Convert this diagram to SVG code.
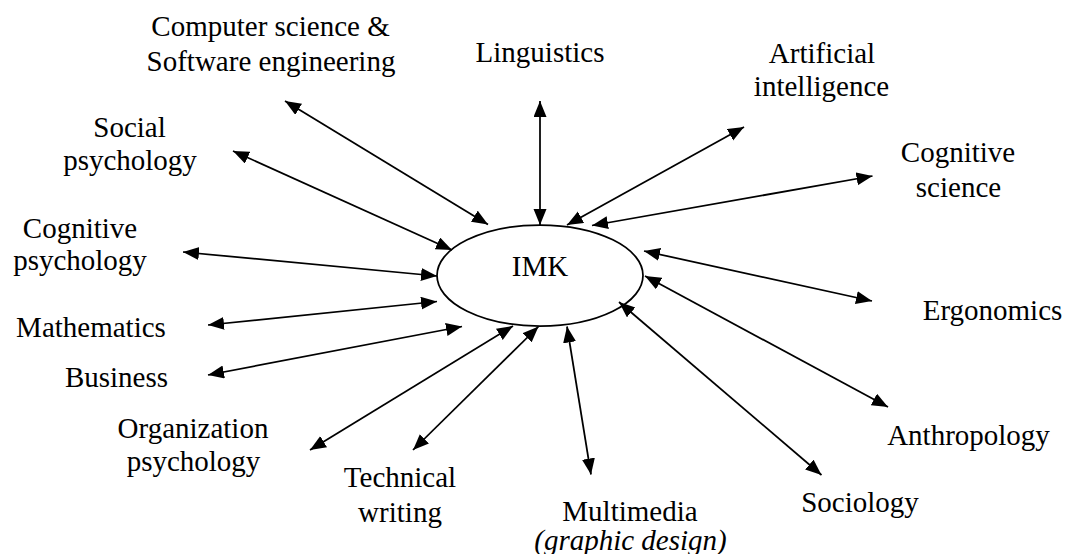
<svg xmlns="http://www.w3.org/2000/svg" width="1066" height="554" viewBox="0 0 1066 554">
<style>
text{font-family:"Liberation Serif","Times New Roman","DejaVu Serif",serif;font-size:29px;fill:#000;text-anchor:middle}
.it{font-style:italic}
.c line{stroke:#000;stroke-width:1.75;marker-start:url(#ah);marker-end:url(#ah)}
</style>
<defs>
<marker id="ah" markerUnits="userSpaceOnUse" markerWidth="17" markerHeight="14" refX="16" refY="6.5" orient="auto-start-reverse">
<path d="M0,0 L16,6.5 L0,13 z" fill="#000"/>
</marker>
</defs>
<rect width="1066" height="554" fill="#fff"/>
<g id="imk">
<ellipse cx="540" cy="275.5" rx="103" ry="50.5" fill="#fff" stroke="#000" stroke-width="1.75"/>
<text x="540" y="276">IMK</text>
</g>
<g class="c" id="connectors">
<line x1="285" y1="101" x2="488" y2="224.5"/>
<line x1="233" y1="151" x2="452" y2="250"/>
<line x1="540" y1="101" x2="540" y2="225"/>
<line x1="744" y1="127" x2="567" y2="225"/>
<line x1="872.5" y1="176" x2="592" y2="225.5"/>
<line x1="872" y1="301" x2="644" y2="251"/>
<line x1="888" y1="407" x2="645" y2="276"/>
<line x1="821.5" y1="475" x2="619" y2="302"/>
<line x1="591" y1="474.5" x2="567" y2="326.5"/>
<line x1="413" y1="450" x2="538.5" y2="326.5"/>
<line x1="310" y1="450" x2="513" y2="326"/>
<line x1="208" y1="375" x2="462" y2="326.5"/>
<line x1="208" y1="325" x2="437" y2="301.5"/>
<line x1="183" y1="252" x2="437" y2="276"/>
</g>
<g id="cs"><text x="270.5" y="36">Computer science &amp;</text><text x="271" y="71">Software engineering</text></g>
<g id="ling"><text x="540" y="62">Linguistics</text></g>
<g id="ai"><text x="822" y="62.5">Artificial</text><text x="821.5" y="95.5">intelligence</text></g>
<g id="cogsci"><text x="958" y="161.5">Cognitive</text><text x="958.5" y="196.5">science</text></g>
<g id="social"><text x="129.5" y="136.5">Social</text><text x="130" y="170">psychology</text></g>
<g id="cogpsy"><text x="80" y="237.5">Cognitive</text><text x="80" y="270">psychology</text></g>
<g id="math"><text x="91" y="336.5">Mathematics</text></g>
<g id="business"><text x="116.5" y="386.5">Business</text></g>
<g id="org"><text x="193" y="438">Organization</text><text x="193.5" y="471">psychology</text></g>
<g id="tech"><text x="400" y="487">Technical</text><text x="400" y="522">writing</text></g>
<g id="mm"><text x="630" y="520.5">Multimedia</text><text class="it" x="630.5" y="549.5">(graphic design)</text></g>
<g id="soc"><text x="860" y="512">Sociology</text></g>
<g id="anth"><text x="968.5" y="445">Anthropology</text></g>
<g id="ergo"><text x="992.5" y="320">Ergonomics</text></g>
</svg>
